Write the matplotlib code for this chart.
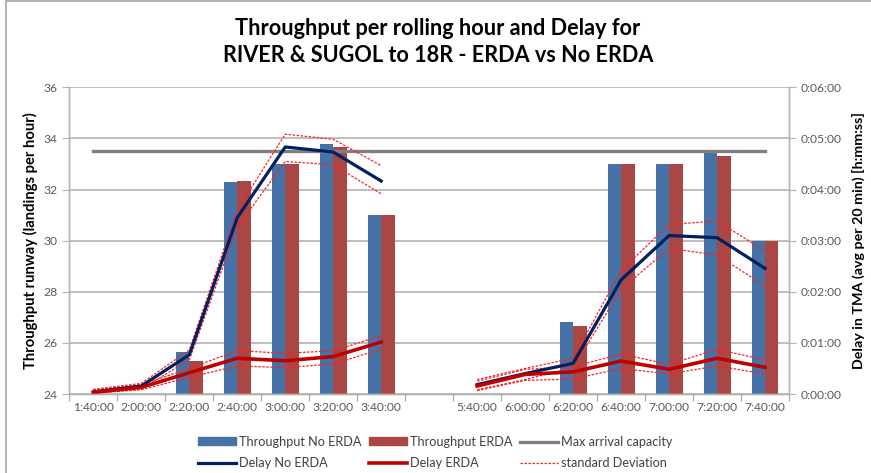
import numpy as np
import matplotlib
matplotlib.use('Agg')
import matplotlib.pyplot as plt
from matplotlib.ticker import FuncFormatter, MultipleLocator
from matplotlib.lines import Line2D
from matplotlib.patches import Rectangle

plt.rcParams['font.family'] = ['Lato', 'DejaVu Sans']

nan = np.nan

# time slots (empty slot is the break in the night)
categories = ['1:40:00', '2:00:00', '2:20:00', '2:40:00', '3:00:00', '3:20:00', '3:40:00', '',
              '5:40:00', '6:00:00', '6:20:00', '6:40:00', '7:00:00', '7:20:00', '7:40:00']

# throughput, landings per hour
tp_no_erda = [nan, nan, 25.66, 32.28, 33.0, 33.77, 31.0, nan, nan, nan, 26.8, 33.0, 33.0, 33.46, 30.0]
tp_erda = [nan, nan, 25.29, 32.33, 33.0, 33.68, 31.0, nan, nan, nan, 26.66, 33.0, 33.0, 33.31, 30.0]
max_capacity = [33.5, 33.5, 33.5, 33.5, 33.5, 33.5, 33.5, 33.5, 33.5, 33.5, 33.5, 33.5, 33.5, 33.5, 33.5]

# delay in seconds
delay_no_erda = [2.5, 9.4, 46, 207, 290, 284, 250, nan, 11, 24, 36, 134, 186, 183.5, 147.5]
delay_no_erda_hi = [5.5, 12.5, 51.6, 216, 305, 299, 268, nan, 17, 30, 42, 145, 199, 203, 168]
delay_no_erda_lo = [1, 6, 40, 196, 273, 269, 235, nan, 5, 17, 31, 123, 171, 163, 127]
delay_erda = [2, 7.8, 25, 42, 39, 44, 61, nan, 9.4, 23, 26, 38.7, 29, 42, 31.3]
delay_erda_hi = [5, 11, 30, 51, 47.7, 50.8, 68.4, nan, 15, 29, 32, 47, 34.8, 52.4, 40]
delay_erda_lo = [1, 5, 19.6, 33, 31, 35.2, 52.8, nan, 4, 16, 17.6, 30, 23.5, 33, 23.5]

x = np.arange(len(categories))
w = 0.28
tick_col = '#595959'
grid_col = '#b3b3b3'

fig = plt.figure(figsize=(8.71, 4.73), dpi=100)
ax = fig.add_axes([0.0796, 0.167, 0.8263, 0.6484])
ax2 = ax.twinx()

# bars
ax.bar(x - w/2, tp_no_erda, w, color='#4572a7', zorder=2, label='Throughput No ERDA')
ax.bar(x + w/2, tp_erda, w, color='#aa4643', zorder=2, label='Throughput ERDA')
ax.plot(x, max_capacity, color='#808080', lw=2.4, zorder=3, label='Max arrival capacity')

# delay lines on secondary axis
sd_kw = dict(color='#ff2020', lw=0.9, ls=(0, (2, 1.2)))
ax2.plot(x, delay_no_erda_hi, **sd_kw)
ax2.plot(x, delay_no_erda_lo, **sd_kw)
ax2.plot(x, delay_erda_hi, **sd_kw)
ax2.plot(x, delay_erda_lo, **sd_kw)
ax2.plot(x, delay_no_erda, color='#002060', lw=2.3)
ax2.plot(x, delay_erda, color='#c00000', lw=2.6)

ax.set_xlim(-0.5, len(categories) - 0.5)
ax.set_ylim(24, 36)
ax.yaxis.set_major_locator(MultipleLocator(2))
ax.grid(axis='y', color=grid_col, lw=1.2, zorder=0)
ax.set_axisbelow(True)

ax2.set_ylim(0, 360)
ax2.yaxis.set_major_locator(MultipleLocator(60))
ax2.yaxis.set_major_formatter(FuncFormatter(lambda v, p: '%d:%02d:%02d' % (v // 3600, (v % 3600) // 60, v % 60)))

# category boundaries get tick marks, centers get labels
ax.set_xticks(np.arange(len(categories) + 1) - 0.5)
ax.set_xticklabels([])
ax.set_xticks(x, minor=True)
ax.set_xticklabels(categories, minor=True)
ax.tick_params(axis='x', which='major', length=5, color=grid_col, width=1)
ax.tick_params(axis='x', which='minor', length=0, pad=6, labelsize=8.7, labelcolor=tick_col)
ax.tick_params(axis='y', length=5, color=grid_col, labelsize=8.7, labelcolor=tick_col)
ax2.tick_params(axis='y', length=5, color=grid_col, labelsize=8.7, labelcolor=tick_col)

for a in (ax, ax2):
    a.spines['top'].set_visible(False)
    for s in ('left', 'right', 'bottom'):
        a.spines[s].set_color(grid_col)
        a.spines[s].set_linewidth(1)

ax.set_ylabel('Throughput runway (landings per hour)', fontsize=10.6, fontweight='bold', labelpad=4)
ax2.set_ylabel('Delay in TMA (avg per 20 min) [h:mm:ss]', fontsize=10.3, fontweight='bold', labelpad=7)

fig.text(0.503, 0.94, 'Throughput per rolling hour and Delay for', ha='center', va='center',
         fontsize=15.6, fontweight='bold')
fig.text(0.503, 0.882, 'RIVER & SUGOL to 18R - ERDA vs No ERDA', ha='center', va='center',
         fontsize=15.6, fontweight='bold')

# legend
handles = [
    Rectangle((0, 0), 1, 1, color='#4572a7'),
    Line2D([], [], color='#002060', lw=2.3),
    Rectangle((0, 0), 1, 1, color='#aa4643'),
    Line2D([], [], color='#c00000', lw=2.6),
    Line2D([], [], color='#808080', lw=2.4),
    Line2D([], [], color='#ff2020', lw=0.9, ls=(0, (2, 1.2))),
]
labels = ['Throughput No ERDA', 'Delay No ERDA', 'Throughput ERDA', 'Delay ERDA',
          'Max arrival capacity', 'standard Deviation']
leg = fig.legend(handles, labels, ncol=3, loc='center', bbox_to_anchor=(0.5, 0.043),
                 frameon=False, fontsize=9.1, handlelength=3.0, handleheight=0.6,
                 handletextpad=0.25, columnspacing=0.6, labelspacing=0.75)
for t in leg.get_texts():
    t.set_color('#404040')

# chart area border
fig.add_artist(Rectangle((5.5 / 871, -0.1), 2, 1.1 - 1.5 / 473, transform=fig.transFigure,
                         fill=False, edgecolor='#a6a6a6', lw=1.2, clip_on=False))

fig.savefig('out.png', dpi=100)
